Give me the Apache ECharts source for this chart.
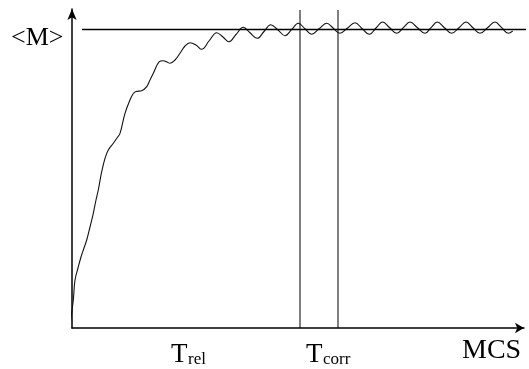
<!DOCTYPE html>
<html>
<head>
    <meta charset="utf-8">
    <title>ECharts</title>
    <script src="https://cdn.jsdelivr.net/npm/echarts/dist/echarts.min.js"></script>
</head>
<body style="margin:0;background:#fff;">
    <div id="main" style="width: 529px;height:369px;"></div>
    <script>
        // MCS (arbitrary units) and magnetisation (arbitrary units)
        var mcs = [-3, -1, 1.3, 3, 6, 9, 12, 14.7, 18, 21.3, 24, 26.3, 29.7, 33, 36.3, 41.3, 45, 48,
            53, 58, 61, 64, 69.7, 74.7, 78, 81.3, 87.3, 91.3, 95, 98, 103, 108, 113, 118, 124, 129.7,
            137, 144.7, 151, 157, 164, 171.3, 178, 185.3, 192, 198.7, 206, 213, 219.7, 226.3, 233,
            239.7, 247, 254.7, 261.3, 268, 275.5, 283, 290, 297.3, 304, 310.7, 317.7, 324.7, 331.3,
            338, 345.5, 353, 359, 365.3, 372.5, 379.7, 387, 394, 401, 408, 415.5, 423, 429.7, 436.3, 440.7];
        var magnet = [-7, 10, 28, 48, 60, 71, 80, 88, 101, 114.7, 128, 138, 156.3, 169.7, 178, 184.7, 190, 194.7,
            214.7, 228, 234, 236.5, 237.3, 241.3, 248, 254.7, 266.3, 267.3, 266, 264.7, 268, 274.7, 282, 285.3, 283, 278.7,
            287, 295.3, 291, 286.3, 293.5, 300.7, 295.2, 289.7, 296.5, 303.3, 298, 292.3, 298.5, 304.7, 299.2,
            293.7, 299.2, 304.7, 299.7, 294.7, 300, 305.3, 299.5, 293.7, 300, 306, 300.3, 294.7, 300.3,
            306, 300.3, 294.7, 300.3, 306, 300.3, 294.7, 300.3, 306, 300.3, 294.7, 300.3, 306, 300.3, 294.7, 297];
        var meanM = 298.5;
        var meanFrom = 10, meanTo = 456;
        var tRel = 228;
        var tCorr = 266;
        var vTop = 318;

        var curve = mcs.map(function (x, i) { return [x, magnet[i]]; });

        var chartDom = document.getElementById('main');
        var myChart = echarts.init(chartDom);
        var serif = 'Liberation Serif, Times New Roman, serif';

        function straight(pts, w) {
            return {
                type: 'line',
                data: pts,
                symbol: 'none',
                clip: false,
                silent: true,
                lineStyle: { color: '#000', width: w }
            };
        }

        var option = {
            animation: false,
            grid: { left: 72, right: 5, top: 9, bottom: 41 },
            xAxis: {
                type: 'value',
                min: 0,
                max: 452,
                splitLine: { show: false },
                axisTick: { show: false },
                axisLabel: { show: false },
                axisLine: {
                    lineStyle: { color: '#000', width: 1.5 },
                    symbol: ['none', 'arrow'],
                    symbolSize: [8, 9]
                }
            },
            yAxis: {
                type: 'value',
                min: 0,
                max: 319,
                splitLine: { show: false },
                axisTick: { show: false },
                axisLabel: { show: false },
                axisLine: {
                    lineStyle: { color: '#000', width: 1.5 },
                    symbol: ['none', 'arrow'],
                    symbolSize: [7, 11]
                }
            },
            series: [
                {
                    type: 'line',
                    data: curve,
                    symbol: 'none',
                    smooth: 0.4,
                    clip: false,
                    z: 3,
                    lineStyle: { color: '#111', width: 1.1 }
                },
                straight([[meanFrom, meanM], [meanTo, meanM]], 1.4),
                straight([[tRel, 0], [tRel, vTop]], 1),
                straight([[tCorr, 0], [tCorr, vTop]], 1)
            ],
            graphic: [
                { type: 'text', left: 11, top: 25, style: { text: '<M>', font: '26px ' + serif, fill: '#000' } },
                { type: 'text', left: 171, top: 341, style: { text: 'T', font: '27px ' + serif, fill: '#000' } },
                { type: 'text', left: 188, top: 351, style: { text: 'rel', font: '17px ' + serif, fill: '#000' } },
                { type: 'text', left: 306, top: 341, style: { text: 'T', font: '27px ' + serif, fill: '#000' } },
                { type: 'text', left: 323, top: 351, style: { text: 'corr', font: '17px ' + serif, fill: '#000' } },
                { type: 'text', left: 462, top: 337, style: { text: 'MCS', font: '28px ' + serif, fill: '#000' } }
            ]
        };

        option && myChart.setOption(option);
    </script>
</body>
</html>
